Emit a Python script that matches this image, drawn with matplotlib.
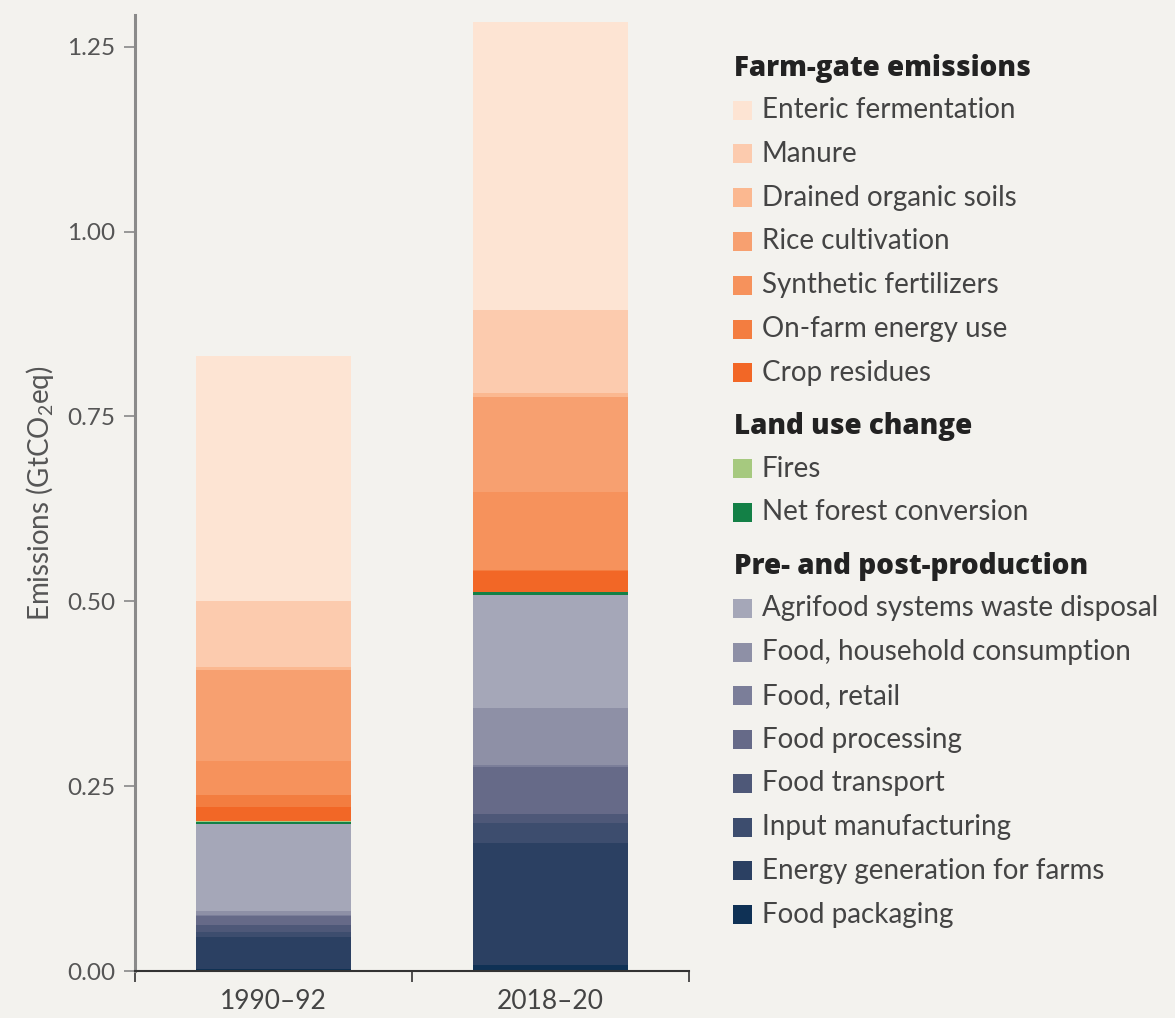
import numpy as np
import matplotlib.pyplot as plt
from matplotlib.patches import Rectangle

plt.rcParams['font.family'] = ['Lato', 'DejaVu Sans']
plt.rcParams['mathtext.fontset'] = 'custom'
plt.rcParams['mathtext.rm'] = 'Lato'
plt.rcParams['mathtext.it'] = 'Lato'

# Данные (GtCO2eq), снизу вверх
periods = ['1990–92', '2018–20']
series = ['Food packaging', 'Energy generation for farms', 'Input manufacturing',
          'Food transport', 'Food processing', 'Food, retail',
          'Food, household consumption', 'Agrifood systems waste disposal',
          'Net forest conversion', 'Fires',
          'Crop residues', 'On-farm energy use', 'Synthetic fertilizers',
          'Rice cultivation', 'Drained organic soils', 'Manure',
          'Enteric fermentation']
vals_1990 = [0.003, 0.043, 0.007, 0.009, 0.012, 0.002, 0.005, 0.118,
             0.003, 0.0005,
             0.019, 0.016, 0.046, 0.123, 0.005, 0.089, 0.331]
vals_2018 = [0.008, 0.165, 0.027, 0.012, 0.064, 0.002, 0.078, 0.153,
             0.003, 0.0005,
             0.028, 0.002, 0.106, 0.128, 0.005, 0.112, 0.390]
colors = ['#0f3155', '#2b4062', '#3d4d6e', '#4e5878', '#666a88', '#7b7e99',
          '#8e90a6', '#a5a7b8',
          '#138046', '#a6c97f',
          '#f26726', '#f37d40', '#f6925c', '#f7a070', '#fbb890', '#fccbae',
          '#fde4d3']

# Группы легенды (сверху вниз)
groups = [('Farm-gate emissions', ['Enteric fermentation', 'Manure', 'Drained organic soils',
                                   'Rice cultivation', 'Synthetic fertilizers',
                                   'On-farm energy use', 'Crop residues']),
          ('Land use change', ['Fires', 'Net forest conversion']),
          ('Pre- and post-production', ['Agrifood systems waste disposal',
                                        'Food, household consumption', 'Food, retail',
                                        'Food processing', 'Food transport',
                                        'Input manufacturing', 'Energy generation for farms',
                                        'Food packaging'])]

bg = '#f3f2ee'
fig = plt.figure(figsize=(11.75, 10.18), dpi=100, facecolor=bg)
ax = fig.add_axes([135 / 1175, 47 / 1018, 554 / 1175, 956 / 1018])
ax.set_facecolor(bg)

x = np.arange(len(periods))
data = np.array([vals_1990, vals_2018])
bottom = np.zeros(len(periods))
for i, name in enumerate(series):
    ax.bar(x, data[:, i], 0.56, bottom=bottom, color=colors[i], linewidth=0)
    bottom += data[:, i]

ax.set_xlim(-0.5, 1.5)
ax.set_ylim(0, 1.293)
ax.set_yticks([0, 0.25, 0.5, 0.75, 1.0, 1.25])
ax.set_yticklabels(['0.00', '0.25', '0.50', '0.75', '1.00', '1.25'])
ax.set_xticks(x)
ax.set_xticklabels(periods)
ax.set_xticks([-0.5, 0.5, 1.5], minor=True)
ax.tick_params(axis='x', which='major', length=0, labelsize=19, labelcolor='#444444', pad=13)
ax.tick_params(axis='x', which='minor', length=8, width=1.2, color='#333333')
ax.tick_params(axis='y', length=8, width=1.2, color='#888888', labelsize=17.5,
               labelcolor='#555555', pad=6)

for s in ['top', 'right']:
    ax.spines[s].set_visible(False)
ax.spines['left'].set_color('#8a8a8a')
ax.spines['left'].set_linewidth(2.2)
ax.spines['bottom'].set_color('#333333')
ax.spines['bottom'].set_linewidth(1.5)

ax.set_ylabel(r'Emissions (GtCO$_2$eq)', fontsize=20, color='#555555', labelpad=8)

# Легенда вручную (в пикселях)
lax = fig.add_axes([0, 0, 1, 1])
lax.set_xlim(0, 1175)
lax.set_ylim(1018, 0)
lax.axis('off')

color_of = dict(zip(series, colors))
y = 68
for title, items in groups:
    lax.text(734, y, title, fontsize=20, fontweight=800, family='Open Sans',
             color='#222222', va='center', ha='left')
    y += 42
    for name in items:
        lax.add_patch(Rectangle((733, y - 9.5), 19, 19, color=color_of[name], lw=0))
        lax.text(762, y, name, fontsize=20, color='#444444', va='center', ha='left')
        y += 43.8
    y += 10

fig.savefig('out.png', dpi=100, facecolor=bg)
